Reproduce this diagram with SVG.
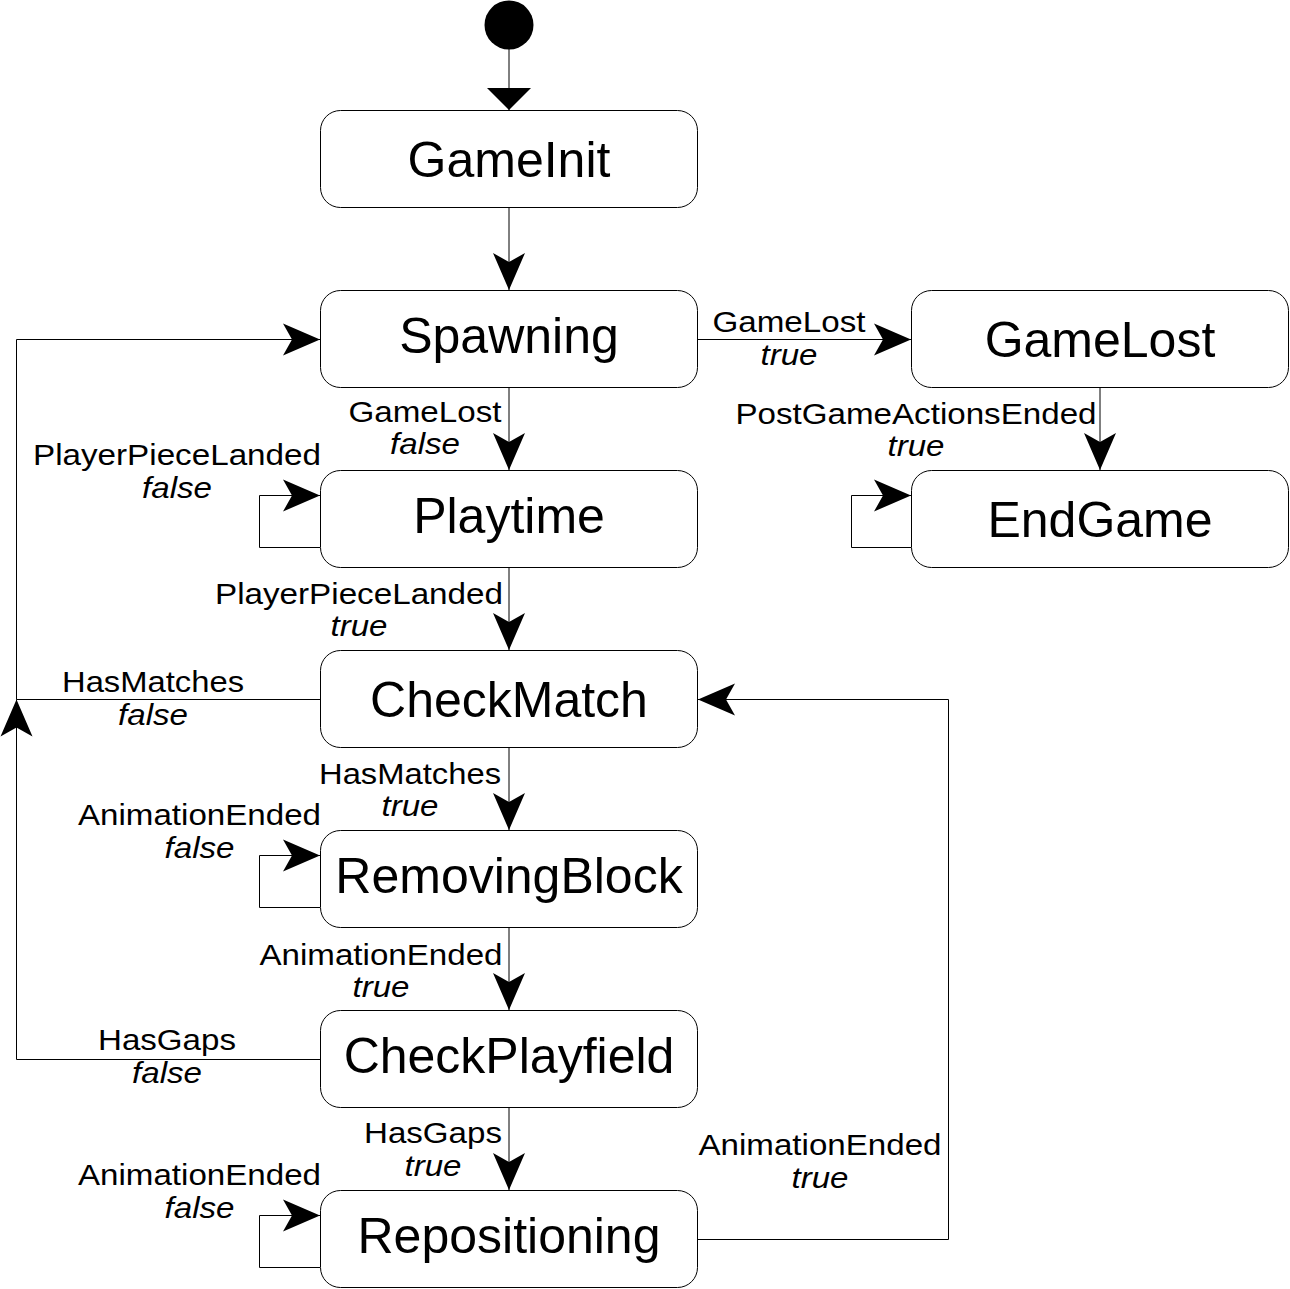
<svg xmlns="http://www.w3.org/2000/svg" width="1290" height="1289" viewBox="0 0 1290 1289">
<style>
.box{fill:#fff;stroke:#000;stroke-width:1}
.name{font-family:"Liberation Sans",Arial,sans-serif;font-size:50px;text-anchor:middle;fill:#000}
.lbl{font-family:"Liberation Sans",Arial,sans-serif;font-size:29px;text-anchor:middle;fill:#000}
.it{font-style:italic}
.edge{fill:none;stroke:#000;stroke-width:1}
.arr{marker-end:url(#classic)}
</style>
<defs>
<marker id="classic" markerUnits="userSpaceOnUse" viewBox="-38 -17 40 34" refX="0" refY="0" markerWidth="40" markerHeight="34" orient="auto">
<path d="M0,0 L-37,-16 L-28,0 L-37,16 Z" fill="#000"/>
</marker>
<marker id="block" markerUnits="userSpaceOnUse" viewBox="-23 -23 25 46" refX="0" refY="0" markerWidth="25" markerHeight="46" orient="auto">
<path d="M0,0 L-22,-22 L-22,22 Z" fill="#000"/>
</marker>
</defs>
<rect width="1290" height="1289" fill="#fff"/>

<g id="connectors">
<path class="edge" d="M509,49 V110" marker-end="url(#block)"/>
<path class="edge arr" d="M509,208 V290"/>
<path class="edge arr" d="M698,339.5 H911"/>
<path class="edge arr" d="M509,388 V470"/>
<path class="edge arr" d="M1100,388 V470"/>
<path class="edge arr" d="M320,547.5 H259.5 V495.5 H320"/>
<path class="edge arr" d="M911,547.5 H851.5 V495.5 H911"/>
<path class="edge arr" d="M509,568 V650"/>
<path class="edge arr" d="M320,699.5 H16.5 V339.5 H320"/>
<path class="edge arr" d="M509,748 V830"/>
<path class="edge arr" d="M320,907.5 H259.5 V855.5 H320"/>
<path class="edge arr" d="M509,928 V1010"/>
<path class="edge arr" d="M320,1059.5 H16.5 V699.5"/>
<path class="edge arr" d="M509,1108 V1190"/>
<path class="edge arr" d="M320,1267.5 H259.5 V1215.5 H320"/>
<path class="edge arr" d="M698,1239.5 H948.5 V699.5 H698"/>
</g>

<g id="labels">
<text class="lbl" x="789" y="332" textLength="153" lengthAdjust="spacingAndGlyphs">GameLost</text>
<text class="lbl it" x="789" y="365" textLength="57" lengthAdjust="spacingAndGlyphs">true</text>
<text class="lbl" x="425" y="422" textLength="153" lengthAdjust="spacingAndGlyphs">GameLost</text>
<text class="lbl it" x="425" y="454" textLength="70" lengthAdjust="spacingAndGlyphs">false</text>
<text class="lbl" x="916" y="424" textLength="361" lengthAdjust="spacingAndGlyphs">PostGameActionsEnded</text>
<text class="lbl it" x="916" y="456" textLength="57" lengthAdjust="spacingAndGlyphs">true</text>
<text class="lbl" x="177" y="465" textLength="288" lengthAdjust="spacingAndGlyphs">PlayerPieceLanded</text>
<text class="lbl it" x="177" y="498" textLength="70" lengthAdjust="spacingAndGlyphs">false</text>
<text class="lbl" x="359" y="604" textLength="288" lengthAdjust="spacingAndGlyphs">PlayerPieceLanded</text>
<text class="lbl it" x="359" y="636" textLength="57" lengthAdjust="spacingAndGlyphs">true</text>
<text class="lbl" x="153" y="692" textLength="182" lengthAdjust="spacingAndGlyphs">HasMatches</text>
<text class="lbl it" x="153" y="725" textLength="70" lengthAdjust="spacingAndGlyphs">false</text>
<text class="lbl" x="410" y="784" textLength="182" lengthAdjust="spacingAndGlyphs">HasMatches</text>
<text class="lbl it" x="410" y="816" textLength="57" lengthAdjust="spacingAndGlyphs">true</text>
<text class="lbl" x="199.5" y="825" textLength="243" lengthAdjust="spacingAndGlyphs">AnimationEnded</text>
<text class="lbl it" x="199.5" y="858" textLength="70" lengthAdjust="spacingAndGlyphs">false</text>
<text class="lbl" x="381" y="965" textLength="243" lengthAdjust="spacingAndGlyphs">AnimationEnded</text>
<text class="lbl it" x="381" y="997" textLength="57" lengthAdjust="spacingAndGlyphs">true</text>
<text class="lbl" x="167" y="1050" textLength="138" lengthAdjust="spacingAndGlyphs">HasGaps</text>
<text class="lbl it" x="167" y="1083" textLength="70" lengthAdjust="spacingAndGlyphs">false</text>
<text class="lbl" x="433" y="1143" textLength="138" lengthAdjust="spacingAndGlyphs">HasGaps</text>
<text class="lbl it" x="433" y="1176" textLength="57" lengthAdjust="spacingAndGlyphs">true</text>
<text class="lbl" x="199.5" y="1185" textLength="243" lengthAdjust="spacingAndGlyphs">AnimationEnded</text>
<text class="lbl it" x="199.5" y="1218" textLength="70" lengthAdjust="spacingAndGlyphs">false</text>
<text class="lbl" x="820" y="1155" textLength="243" lengthAdjust="spacingAndGlyphs">AnimationEnded</text>
<text class="lbl it" x="820" y="1188" textLength="57" lengthAdjust="spacingAndGlyphs">true</text>
</g>

<g id="start"><circle cx="509" cy="25" r="24.5" fill="#000"/></g>
<g id="GameInit"><rect class="box" x="320.5" y="110.5" width="377" height="97" rx="20"/><text class="name" x="509" y="177">GameInit</text></g>
<g id="Spawning"><rect class="box" x="320.5" y="290.5" width="377" height="97" rx="20"/><text class="name" x="509" y="352.5">Spawning</text></g>
<g id="GameLost"><rect class="box" x="911.5" y="290.5" width="377" height="97" rx="20"/><text class="name" x="1100" y="357">GameLost</text></g>
<g id="Playtime"><rect class="box" x="320.5" y="470.5" width="377" height="97" rx="20"/><text class="name" x="509" y="532.5">Playtime</text></g>
<g id="EndGame"><rect class="box" x="911.5" y="470.5" width="377" height="97" rx="20"/><text class="name" x="1100" y="537">EndGame</text></g>
<g id="CheckMatch"><rect class="box" x="320.5" y="650.5" width="377" height="97" rx="20"/><text class="name" x="509" y="717">CheckMatch</text></g>
<g id="RemovingBlock"><rect class="box" x="320.5" y="830.5" width="377" height="97" rx="20"/><text class="name" x="509" y="892.5">RemovingBlock</text></g>
<g id="CheckPlayfield"><rect class="box" x="320.5" y="1010.5" width="377" height="97" rx="20"/><text class="name" x="509" y="1072.5">CheckPlayfield</text></g>
<g id="Repositioning"><rect class="box" x="320.5" y="1190.5" width="377" height="97" rx="20"/><text class="name" x="509" y="1252.5">Repositioning</text></g>
</svg>
